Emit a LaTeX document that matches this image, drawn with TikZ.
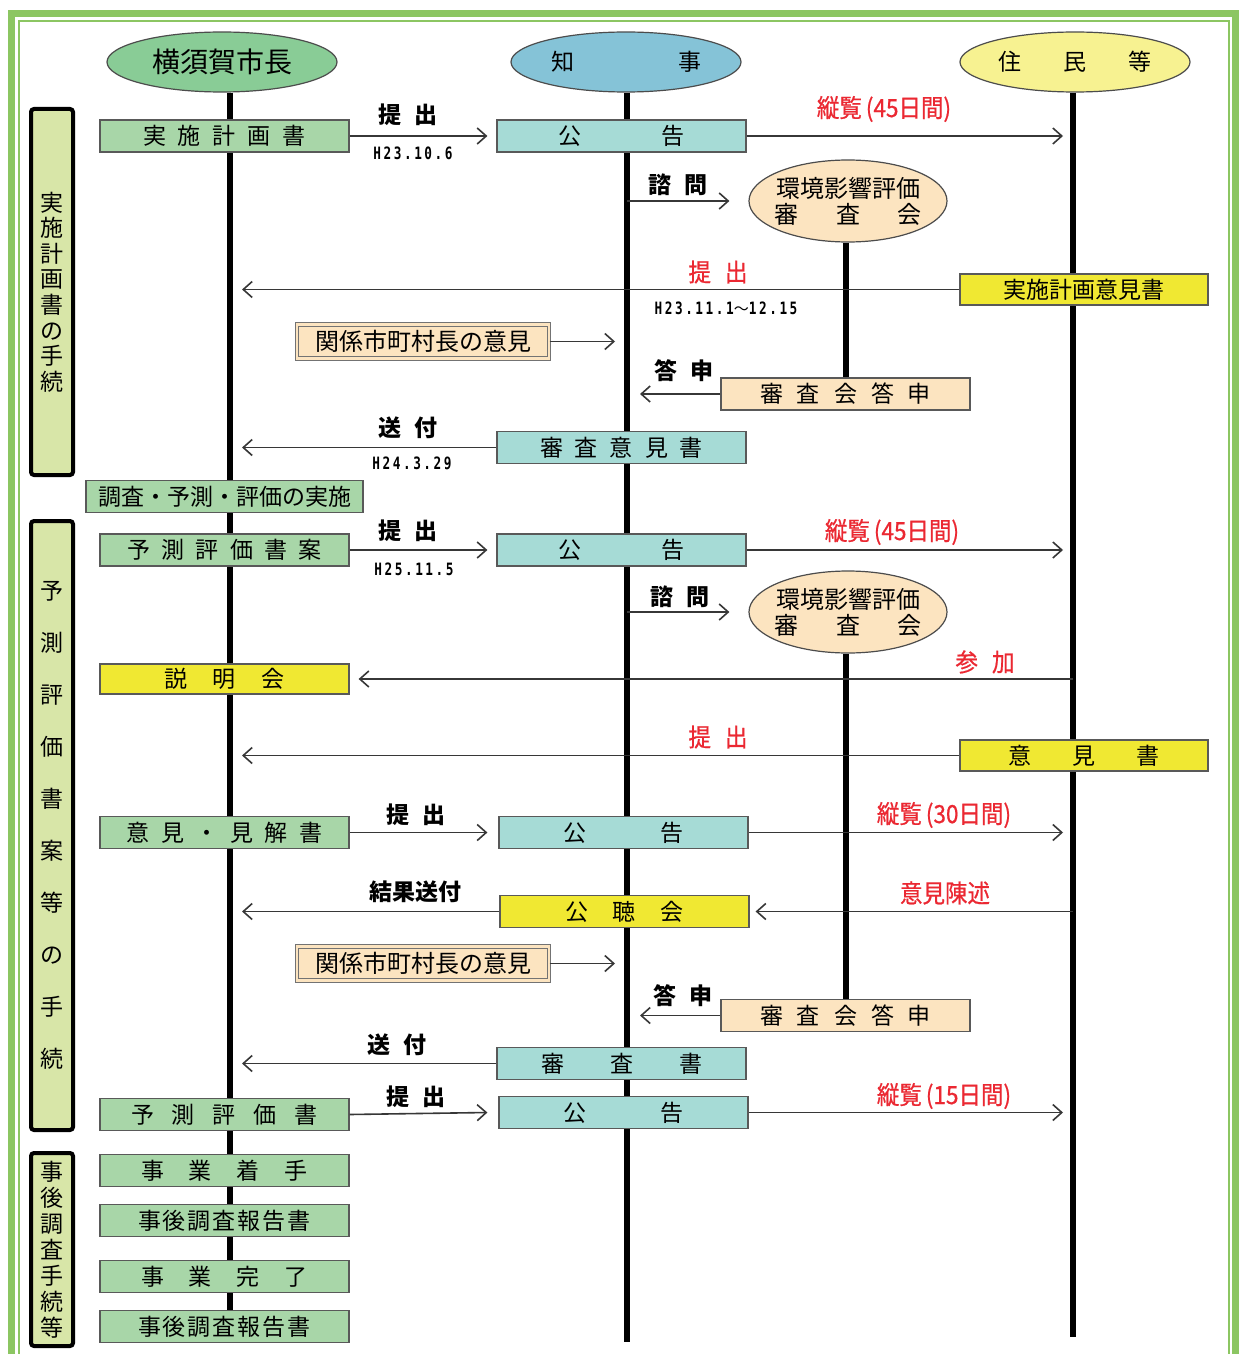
\documentclass[tikz,border=0pt]{standalone}
\usepackage{fontspec}
\setmainfont{Noto Sans CJK JP}
\newfontfamily\jpn{Noto Sans CJK JP}
\newfontfamily\redfont[FakeBold=0.7,FakeStretch=0.9]{Noto Sans CJK JP}
\newfontfamily\datefont[FakeStretch=0.75,LetterSpace=15]{DejaVu Sans Mono}
\usetikzlibrary{arrows.meta,shapes.geometric,backgrounds}
\definecolor{frameg}{RGB}{140,198,98}
\definecolor{ellg}{RGB}{137,204,150}
\definecolor{ellb}{RGB}{133,195,215}
\definecolor{elly}{RGB}{247,242,145}
\definecolor{peach}{RGB}{252,228,192}
\definecolor{boxg}{RGB}{168,214,168}
\definecolor{boxt}{RGB}{166,219,214}
\definecolor{boxy}{RGB}{240,232,50}
\definecolor{sideg}{RGB}{216,230,168}
\definecolor{redlbl}{RGB}{235,40,50}
\definecolor{linec}{RGB}{55,55,55}
\newcommand{\hs}[1]{\hspace{#1pt}}
\newcommand{\wave}{{\jpn\mdseries\fontsize{7.5}{8}\selectfont ～}}
\begin{document}
\begin{tikzpicture}[x=0.5pt,y=-0.5pt,
  box/.style={draw=black!65, line width=0.6pt, minimum width=124.5pt, minimum height=16pt, inner sep=0pt, font=\fontsize{11.5}{12}\selectfont},
  gbox/.style={box, fill=boxg},
  tbox/.style={box, fill=boxt},
  ybox/.style={box, fill=boxy},
  pbox/.style={box, fill=peach},
  dbox/.style={box, fill=peach, draw=black!55, double=peach, double distance=1.2pt, minimum width=126pt, minimum height=17pt, font=\fontsize{12}{13}\selectfont},
  actor/.style={ellipse, draw=black!70, line width=0.6pt, minimum width=115pt, minimum height=30pt, inner sep=0pt},
  council/.style={ellipse, draw=black!70, line width=0.6pt, fill=peach, minimum width=99pt, minimum height=41pt, inner xsep=-4pt, inner ysep=0pt, align=center, font=\fontsize{12}{13}\selectfont},
  side/.style={draw=black, line width=2pt, rounded corners=1.5pt, fill=sideg, minimum width=21pt, inner sep=0pt, align=center},
  lbl/.style={font=\bfseries\fontsize{11.5}{12}\selectfont, inner sep=0pt},
  rlbl/.style={font=\redfont\fontsize{12.5}{13}\selectfont, text=redlbl, inner sep=0pt},
  dlbl/.style={font={\datefont\bfseries\fontsize{8.5}{9}\selectfont}, inner sep=0pt},
  arr/.style={draw=linec, line width=0.8pt, -{Straight Barb[length=4.5pt,width=8pt,line width=0.8pt]}},
  life/.style={line width=3pt, black}]
\useasboundingbox (0,0) rectangle (1240,1354);

% helper coordinates (lifeline x positions and arrow tips)
\coordinate (mEnd) at (230,1320);
\coordinate (gEnd) at (627,1342);
\coordinate (rEnd) at (1073,1337);
\coordinate (gX) at (627,0);
\coordinate (rX) at (1073,0);
\coordinate (mTip) at (242,0);
\coordinate (gTipL) at (615,0);
\coordinate (gTipR) at (640,0);
\coordinate (rTip) at (1063,0);

% actors
\node[actor, fill=ellg, font=\fontsize{14}{15}\selectfont] (mayor) at (222,62) {横須賀市長};
\node[actor, fill=ellb, font=\fontsize{11.5}{12}\selectfont] (gov) at (626,62) {知\hs{52}事};
\node[actor, fill=elly, font=\fontsize{11.5}{12}\selectfont] (resid) at (1075,62) {住\hs{21}民\hs{21}等};

% side boxes
\node[side, minimum height=183pt, font=\fontsize{11.5}{12.8}\selectfont] (side1) at (52,292) {実\\施\\計\\画\\書\\の\\手\\続};
\node[side, minimum height=304.5pt, font=\fontsize{11.5}{26}\selectfont] (side2) at (52,825.5) {予\\測\\評\\価\\書\\案\\等\\の\\手\\続};
\node[side, minimum height=96.5pt, font=\fontsize{11.5}{13}\selectfont] (side3) at (52,1249.5) {事\\後\\調\\査\\手\\続\\等};

% stage 1
\node[gbox] (plan) at (224.5,136) {実\hs{6}施\hs{6}計\hs{6}画\hs{6}書};
\node[tbox] (pub1) at (621.5,136) {公\hs{40}告};
\node[council] (council1) at (848,201) {環境影響評価\\審\hs{19}査\hs{19}会};
\node[ybox, minimum width=124pt, minimum height=15.5pt] (opin1) at (1084,289.5) {実施計画意見書};
\node[dbox] (kankei1) at (423,341.5) {関係市町村長の意見};
\node[pbox] (ans1) at (845.5,394) {審\hs{7}査\hs{7}会\hs{7}答\hs{7}申};
\node[tbox] (review1) at (621.5,447.5) {審\hs{6}査\hs{6}意\hs{6}見\hs{6}書};
\node[gbox, minimum width=138.5pt] (survey) at (224.5,496.5) {調査・予測・評価の実施};

% stage 2
\node[gbox] (draft) at (224.5,550) {予\hs{5.7}測\hs{5.7}評\hs{5.7}価\hs{5.7}書\hs{5.7}案};
\node[tbox] (pub2) at (621.5,550) {公\hs{40}告};
\node[council] (council2) at (848,612) {環境影響評価\\審\hs{19}査\hs{19}会};
\node[ybox, minimum height=15pt] (setsu) at (224.5,679) {説\hs{12.7}明\hs{12.7}会};
\node[ybox, minimum width=124pt, minimum height=15.5pt] (iken) at (1084,755.5) {意\hs{20.5}見\hs{20.5}書};
\node[gbox] (kenkai) at (224.5,832.5) {意\hs{5.8}見\hs{5.8}・\hs{5.8}見\hs{5.8}解\hs{5.8}書};
\node[tbox] (pub3) at (623.5,832.5) {公\hs{37}告};
\node[ybox] (koucho) at (624.5,911.5) {公\hs{12.5}聴\hs{12.5}会};
\node[dbox] (kankei2) at (423,963.5) {関係市町村長の意見};
\node[pbox] (ans2) at (845.5,1015.5) {審\hs{7}査\hs{7}会\hs{7}答\hs{7}申};
\node[tbox] (review2) at (621.5,1063.5) {審\hs{23}査\hs{23}書};
\node[gbox] (final) at (224.5,1114.5) {予\hs{9}測\hs{9}評\hs{9}価\hs{9}書};
\node[tbox] (pub4) at (623.5,1112.5) {公\hs{37}告};

% stage 3
\node[gbox] (start) at (224.5,1170.5) {事\hs{12.5}業\hs{12.5}着\hs{12.5}手};
\node[gbox] (rep1) at (224.5,1220.5) {事\hs{1}後\hs{1}調\hs{1}査\hs{1}報\hs{1}告\hs{1}書};
\node[gbox] (done) at (224.5,1276.5) {事\hs{12.5}業\hs{12.5}完\hs{12.5}了};
\node[gbox] (rep2) at (224.5,1326.5) {事\hs{1}後\hs{1}調\hs{1}査\hs{1}報\hs{1}告\hs{1}書};

% background: frame and lifelines
\begin{scope}[on background layer]
\fill[white] (0,0) rectangle (1240,1354);
\draw[frameg, line width=3.5pt] (11,1354) -- (11,13.5) -- (1235,13.5) -- (1235,1354);
\draw[frameg, line width=1pt] (18.5,1354) -- (18.5,21) -- (1228.5,21) -- (1228.5,1354);
\draw[life] (mayor.south -| mEnd) -- (mEnd);
\draw[life] (gov.south -| gEnd) -- (gEnd);
\draw[life] (resid.south -| rEnd) -- (rEnd);
\draw[life] (ans1.north |- council1.south) -- (ans1.north);
\draw[life] (ans2.north |- council2.south) -- (ans2.north);
\end{scope}

% connectors
\draw[arr] (plan.east) -- ([xshift=-4.5pt]pub1.west);
\draw[arr] (pub1.east) -- (rTip |- pub1.east);
\draw[arr] (gX |- council1.west) -- ([xshift=-9.5pt]council1.west);
\draw[arr] (opin1.west) -- (mTip |- opin1.west);
\draw[arr] (kankei1.east) -- (gTipL |- kankei1.east);
\draw[arr] (ans1.west) -- (gTipR |- ans1.west);
\draw[arr] (review1.west) -- (mTip |- review1.west);
\draw[arr] (draft.east) -- ([xshift=-4.5pt]pub2.west);
\draw[arr] (pub2.east) -- (rTip |- pub2.east);
\draw[arr] (gX |- council2.west) -- ([xshift=-9.5pt]council2.west);
\draw[arr] (rX |- setsu.east) -- ([xshift=4.5pt]setsu.east);
\draw[arr] (iken.west) -- (mTip |- iken.west);
\draw[arr] (kenkai.east) -- ([xshift=-5.5pt]pub3.west);
\draw[arr] (pub3.east) -- (rTip |- pub3.east);
\draw[arr] (koucho.west) -- (mTip |- koucho.west);
\draw[arr] (rX |- koucho.east) -- ([xshift=3pt]koucho.east);
\draw[arr] (kankei2.east) -- (gTipL |- kankei2.east);
\draw[arr] (ans2.west) -- (gTipR |- ans2.west);
\draw[arr] (review2.west) -- (mTip |- review2.west);
\draw[arr] (final.east) -- ([xshift=-5.5pt]pub4.west);
\draw[arr] (pub4.east) -- (rTip |- pub4.east);

% labels
\node[lbl] (l1) at (408,115) {提\hs{7}出};
\node[dlbl] (d1) at (413,153) {H23.10.6};
\node[rlbl] (l2) at (884,109) {縦覧\hs{2}(45日間)};
\node[lbl] (l3) at (678,185) {諮\hs{7}問};
\node[rlbl] (l4) at (718,272) {提\hs{7}出};
\node[dlbl] (d2) at (726,308) {H23.11.1\wave 12.15};
\node[lbl] (l5) at (684,371) {答\hs{7}申};
\node[lbl] (l6) at (408,428) {送\hs{7}付};
\node[dlbl] (d3) at (412,463) {H24.3.29};
\node[lbl] (l7) at (408,531) {提\hs{7}出};
\node[dlbl] (d4) at (414,569) {H25.11.5};
\node[rlbl] (l8) at (892,532) {縦覧\hs{2}(45日間)};
\node[lbl] (l9) at (680,597) {諮\hs{7}問};
\node[rlbl] (l10) at (985,662) {参\hs{7}加};
\node[rlbl] (l11) at (718,737) {提\hs{7}出};
\node[lbl] (l12) at (416,815) {提\hs{7}出};
\node[rlbl] (l13) at (944,815) {縦覧\hs{2}(30日間)};
\node[lbl] (l14) at (415,892) {結果送付};
\node[rlbl] (l15) at (945,893) {意見陳述};
\node[lbl] (l16) at (683,996) {答\hs{7}申};
\node[lbl] (l17) at (397,1045) {送\hs{7}付};
\node[lbl] (l18) at (416,1097) {提\hs{7}出};
\node[rlbl] (l19) at (944,1096) {縦覧\hs{2}(15日間)};
\end{tikzpicture}
\end{document}
